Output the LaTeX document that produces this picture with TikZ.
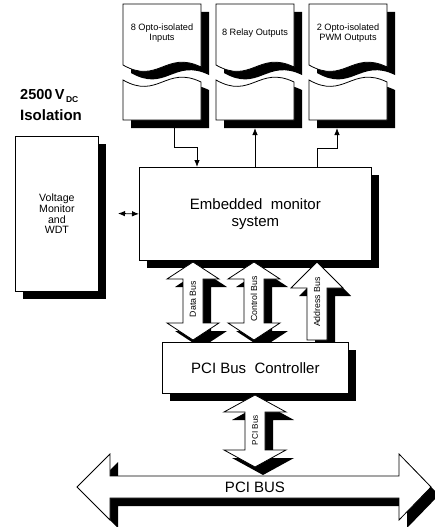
\documentclass[tikz,border=0pt]{standalone}
\usepackage{fontspec}
\setmainfont{Liberation Sans}
\usetikzlibrary{arrows.meta,shadows}
\newcommand\dbuspath[6]{(#1,#2) -- (#1+#4,#2+#5) -- (#1+#6,#2+#5) -- (#1+#6,#3-#5) -- (#1+#4,#3-#5) -- (#1,#3) -- (#1-#4,#3-#5) -- (#1-#6,#3-#5) -- (#1-#6,#2+#5) -- (#1-#4,#2+#5) -- cycle}
\newcommand\sbuspath[6]{(#1,#2) -- (#1+#4,#2+#5) -- (#1+#6,#2+#5) -- (#1+#6,#3) -- (#1-#6,#3) -- (#1-#6,#2+#5) -- (#1-#4,#2+#5) -- cycle}
\newcommand\bigarrowpath{(77,487) -- (110,454) -- (110,476) -- (399,476) -- (399,454) -- (431,487) -- (399,520) -- (399,498) -- (110,498) -- (110,520) -- cycle}
\newcommand\fs[1]{\fontsize{#1}{#1}\selectfont}
\begin{document}
\begin{tikzpicture}[x=1pt,y=-1pt,line join=miter,
  outl/.style={draw=black,line width=0.8pt,fill=white},
  box/.style={draw=black,line width=0.8pt,fill=white,inner sep=0pt,align=center,
    drop shadow={shadow xshift=8pt,shadow yshift=-8pt,opacity=1,fill=black}},
  conn/.style={line width=0.8pt},
  tipe/.style={-{Latex[length=7pt,width=5.5pt]}},
  lbl/.style={align=center,font=\fs{9.2},inner sep=0pt},
  buslbl/.style={rotate=90,font=\fs{8.8},inner sep=0pt},
  topbox/.pic={
    \fill[black,shift={(8,8)}] (0,4) -- (78,4) -- (78,67) .. controls (43,50) and (35,85) .. (0,65) -- cycle;
    \fill[black,shift={(8,8)}] (0,80) .. controls (35,100) and (43,65) .. (78,82) -- (78,120) -- (0,120) -- cycle;
    \draw[outl] (0,4) -- (78,4) -- (78,67) .. controls (43,50) and (35,85) .. (0,65) -- cycle;
    \draw[outl] (0,80) .. controls (35,100) and (43,65) .. (78,82) -- (78,120) -- (0,120) -- cycle;
  }]
\useasboundingbox (0,0) rectangle (434,527);

% isolation title
\node[anchor=west,inner sep=0pt,font=\bfseries\fs{14.5}] (iso1) at (20,96) {2500\,V\kern1.5pt\raisebox{-3pt}{\bfseries\fs{8.5}DC}};
\node[anchor=west,inner sep=0pt,font=\bfseries\fs{15}] (iso2) at (20,115) {Isolation};

% top boxes
\pic at (123,0) {topbox};
\pic at (216,0) {topbox};
\pic at (309,0) {topbox};
\node[lbl] (in1) at (162,33) {8 Opto-isolated\\[1.5pt]Inputs};
\node[lbl] (out1) at (255,33) {8 Relay Outputs};
\node[lbl] (pwm1) at (348,33) {2 Opto-isolated\\[1.5pt]PWM Outputs};
\coordinate (b1s) at (174,128);
\coordinate (b2s) at (255,128);
\coordinate (b3s) at (337,128);

% voltage monitor
\node[box,anchor=north west,minimum width=83pt,minimum height=155pt,font=\fs{10.6}] (vm) at (15,136)
  {Voltage\\[0pt]Monitor\\[0pt]and\\[0pt]WDT};

% embedded system
\node[box,anchor=north west,minimum width=232pt,minimum height=93pt,font=\fs{15}] (emb) at (139,167)
  {Embedded\ \ monitor\\[2pt]system};
\coordinate (e1) at (197,167);
\coordinate (e2) at (255,167);
\coordinate (e3) at (317,167);
\coordinate (vmr) at (118,213.5);

% connectors
\draw[conn,tipe] (b1s) -- ++(0,19) -| (e1);
\draw[conn,tipe] (e2) -- (b2s);
\draw[conn,tipe] (e3) -- ++(0,-19) -| (b3s);
\draw[conn,{Latex[length=7pt,width=5.5pt]}-{Latex[length=7pt,width=5.5pt]}] (vmr) -- (emb.west);

% bus arrows between embedded system and controller
\begin{scope}[shift={(8,8)}]
  \fill \dbuspath{193}{262}{340}{26}{17}{10};
  \fill \dbuspath{254}{262}{340}{26}{17}{10};
  \fill \sbuspath{317}{262}{340}{26}{26}{10};
\end{scope}
\draw[outl] \dbuspath{193}{262}{340}{26}{17}{10};
\draw[outl] \dbuspath{254}{262}{340}{26}{17}{10};
\draw[outl] \sbuspath{317}{262}{340}{26}{26}{10};
\node[buslbl] (db) at (193,299) {Data Bus};
\node[buslbl] (cb) at (254,299) {Control Bus};
\node[buslbl] (ab) at (317,302) {Address Bus};

% PCI bus controller
\node[box,anchor=north west,minimum width=186pt,minimum height=51pt,font=\fs{15}] (pbc) at (162,342)
  {PCI Bus\ \ Controller};

% PCI bus arrow
\fill[shift={(8,8)}] \dbuspath{255}{395}{467}{31}{17}{10};
\draw[outl] \dbuspath{255}{395}{467}{31}{17}{10};
\node[buslbl,font=\fs{8.2}] (pb) at (255,430) {PCI Bus};

% big PCI BUS arrow
\fill[shift={(8,8)}] \bigarrowpath;
\draw[outl] \bigarrowpath;
\node[font=\fs{15},inner sep=0pt] (pcibus) at (255,487) {PCI BUS};
\end{tikzpicture}
\end{document}
